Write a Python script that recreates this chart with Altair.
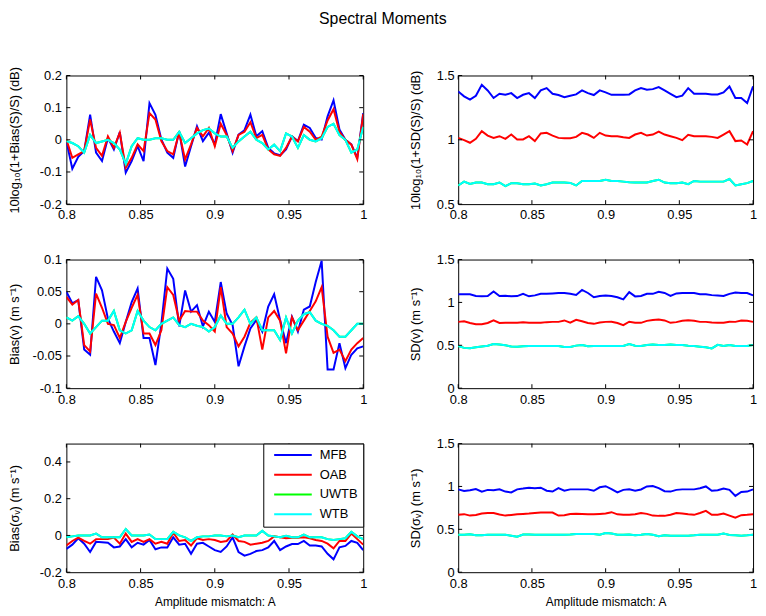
import altair as alt
import pandas as pd

AMP = [round(0.8 + 0.004 * k, 3) for k in range(51)]
SERIES = ["MFB", "OAB", "UWTB", "WTB"]
COLORS = ["#0000ff", "#ff0000", "#00ff00", "#00ffff"]
X_TICKS = [0.8, 0.85, 0.9, 0.95, 1.0]

# ---- Bias of S (dB) ----
MFB_S_BIAS = [-0.004, -0.09, -0.053, -0.035, 0.078, -0.04, -0.066, 0.006, -0.03, 0.024,
              -0.102, -0.066, -0.02, -0.066, 0.114, 0.078, 0.001, -0.04, -0.056, 0.027,
              -0.083, -0.02, 0.042, -0.004, 0.022, -0.014, 0.08, 0.02, -0.04, 0.016,
              0.03, 0.078, 0.011, 0.027, -0.025, -0.042, -0.048, -0.03, 0.011, -0.004,
              0.047, 0.037, 0.006, 0.001, 0.073, 0.123, 0.032, 0.0, -0.014, -0.056, 0.083]
OAB_S_BIAS = [0.001, -0.056, -0.045, -0.035, 0.063, -0.025, -0.05, 0.011, -0.025, 0.022,
              -0.087, -0.056, -0.014, -0.035, 0.083, 0.063, -0.004, -0.035, -0.045, 0.022,
              -0.061, -0.014, 0.037, 0.011, 0.037, -0.02, 0.05, 0.015, -0.035, 0.015,
              0.025, 0.055, 0.005, 0.015, -0.03, -0.045, -0.05, -0.025, 0.01, -0.005,
              0.04, 0.025, 0.0, 0.01, 0.06, 0.095, 0.025, 0.0, -0.015, -0.06, 0.08]
WTB_S_BIAS = [-0.004, -0.01, -0.02, -0.04, 0.015, -0.01, -0.005, 0.0, -0.01, -0.03,
              -0.075, -0.02, 0.005, 0.0, 0.0, 0.005, 0.005, 0.0, 0.0, 0.025,
              -0.01, 0.005, 0.02, 0.03, 0.035, 0.02, 0.01, 0.01, -0.025, -0.005,
              0.01, 0.025, 0.0, -0.01, -0.03, -0.015, -0.035, 0.02, 0.01, -0.025,
              0.015, 0.0, -0.005, 0.005, 0.04, 0.05, 0.015, 0.0, -0.04, -0.03, 0.04]
UWTB_S_BIAS = list(WTB_S_BIAS)

# ---- Bias of v (m/s) ----
MFB_V_BIAS = [0.05, 0.032, 0.037, -0.04, -0.048, 0.073, 0.052, 0.008, -0.012, -0.03,
              0.003, 0.034, 0.055, -0.022, -0.022, -0.064, 0.0, 0.086, 0.07, -0.004,
              0.052, 0.019, 0.029, -0.004, 0.019, 0.003, 0.065, 0.016, -0.002, -0.066,
              -0.035, -0.007, 0.006, -0.012, 0.027, 0.046, 0.006, -0.03, 0.011, -0.012,
              0.022, 0.027, 0.065, 0.098, -0.071, -0.071, -0.03, -0.069, -0.048, -0.038, -0.035]
OAB_V_BIAS = [0.042, 0.03, 0.037, -0.033, -0.043, 0.047, 0.025, 0.0, -0.002, -0.022,
              0.003, 0.025, 0.045, -0.015, -0.015, -0.033, -0.01, 0.057, 0.045, 0.005,
              0.02, 0.019, 0.019, 0.005, -0.002, -0.012, 0.057, -0.005, -0.015, -0.035,
              -0.02, 0.002, 0.01, -0.04, 0.01, 0.02, 0.005, -0.046, 0.01, -0.01,
              0.005, 0.02, 0.035, 0.057, -0.02, -0.045, -0.04, -0.058, -0.04, -0.03, -0.022]
WTB_V_BIAS = [0.01, 0.005, 0.012, 0.0, -0.015, -0.005, 0.005, 0.005, 0.02, -0.01,
              -0.015, -0.01, 0.02, 0.005, -0.005, -0.01, 0.0, 0.005, 0.01, -0.002,
              -0.005, 0.0, -0.003, -0.005, -0.012, -0.005, 0.013, 0.0, 0.0, 0.01,
              0.022, 0.0, 0.01, -0.01, -0.01, -0.01, -0.025, 0.01, -0.015, 0.005,
              0.015, 0.018, 0.005, 0.0, -0.003, -0.01, -0.02, -0.02, -0.01, 0.0, 0.0]
UWTB_V_BIAS = list(WTB_V_BIAS)

# ---- Bias of sigma_v (m/s) ----
MFB_SIG_BIAS = [-0.073, -0.05, -0.015, -0.045, -0.09, -0.035, -0.037, -0.04, -0.065, -0.06,
                -0.02, -0.065, -0.04, -0.05, -0.025, -0.075, -0.065, -0.065, -0.01, -0.05,
                -0.045, -0.1, -0.045, -0.04, -0.06, -0.08, -0.09, -0.06, -0.01, -0.09,
                -0.11, -0.1, -0.085, -0.08, -0.065, -0.03, -0.08, -0.06, -0.047, -0.047,
                -0.03, -0.055, -0.055, -0.06, -0.1, -0.13, -0.065, -0.057, -0.03, -0.04, -0.08]
OAB_SIG_BIAS = [-0.055, -0.03, -0.012, -0.03, -0.045, -0.02, -0.02, -0.02, -0.012, -0.045,
                0.01, -0.035, -0.02, -0.035, -0.02, -0.045, -0.035, -0.045, 0.015, -0.03,
                -0.025, -0.055, -0.015, -0.025, -0.02, -0.025, -0.035, -0.03, 0.005, -0.03,
                -0.035, -0.05, -0.045, -0.04, -0.03, -0.005, -0.01, -0.015, -0.012, -0.012,
                -0.01, -0.015, -0.025, -0.03, -0.045, -0.07, -0.03, -0.03, 0.01, -0.02, -0.05]
WTB_SIG_BIAS = [-0.01, -0.005, 0.0, 0.0, 0.0, 0.01, -0.01, -0.01, -0.01, -0.01,
                0.035, 0.0, 0.0, 0.0, 0.005, -0.02, -0.02, -0.02, 0.02, 0.0,
                -0.01, -0.03, -0.01, -0.005, -0.005, 0.0, 0.0, -0.005, 0.0, -0.01,
                0.0, 0.0, 0.0, 0.025, 0.0, -0.005, -0.01, -0.002, -0.01, -0.01,
                0.005, -0.01, -0.01, -0.01, -0.02, -0.025, -0.02, -0.015, 0.02, -0.005, -0.02]
UWTB_SIG_BIAS = list(WTB_SIG_BIAS)

# ---- SD of S (dB) ----
MFB_S_SD = [1.376, 1.338, 1.312, 1.343, 1.428, 1.384, 1.325, 1.358, 1.35, 1.363,
            1.325, 1.35, 1.363, 1.325, 1.384, 1.402, 1.358, 1.348, 1.332, 1.343,
            1.353, 1.384, 1.363, 1.348, 1.384, 1.369, 1.35, 1.35, 1.35, 1.353,
            1.384, 1.402, 1.389, 1.394, 1.41, 1.384, 1.358, 1.332, 1.343, 1.402,
            1.358, 1.358, 1.358, 1.353, 1.353, 1.369, 1.415, 1.325, 1.325, 1.286, 1.415]
OAB_S_SD = [1.015, 0.997, 0.977, 1.008, 1.067, 1.033, 1.015, 1.028, 1.008, 1.041,
            1.003, 1.003, 1.028, 0.99, 1.049, 1.054, 1.033, 1.015, 1.013, 1.013,
            1.023, 1.054, 1.041, 1.015, 1.054, 1.033, 1.028, 1.028, 1.02, 1.015,
            1.041, 1.054, 1.033, 1.041, 1.064, 1.041, 1.028, 1.015, 0.997, 1.039,
            1.028, 1.028, 1.028, 1.023, 1.015, 1.041, 1.067, 0.99, 0.995, 0.964, 1.067]
WTB_S_SD = [0.645, 0.675, 0.657, 0.668, 0.668, 0.655, 0.655, 0.668, 0.64, 0.663,
            0.663, 0.655, 0.655, 0.66, 0.645, 0.655, 0.668, 0.668, 0.668, 0.665,
            0.645, 0.68, 0.68, 0.68, 0.68, 0.69, 0.68, 0.68, 0.675, 0.67,
            0.668, 0.668, 0.668, 0.68, 0.69, 0.668, 0.663, 0.663, 0.668, 0.655,
            0.68, 0.675, 0.675, 0.675, 0.675, 0.675, 0.695, 0.645, 0.655, 0.663, 0.68]
UWTB_S_SD = list(WTB_S_SD)

# ---- SD of v (m/s) ----
MFB_V_SD = [1.094, 1.094, 1.094, 1.075, 1.071, 1.075, 1.128, 1.075, 1.078, 1.071,
            1.074, 1.1, 1.071, 1.082, 1.1, 1.1, 1.105, 1.11, 1.11, 1.1,
            1.086, 1.145, 1.11, 1.06, 1.075, 1.08, 1.075, 1.06, 1.035, 1.12,
            1.07, 1.075, 1.1, 1.1, 1.125, 1.11, 1.075, 1.105, 1.11, 1.11,
            1.11, 1.095, 1.094, 1.085, 1.08, 1.075, 1.1, 1.115, 1.11, 1.11, 1.082]
OAB_V_SD = [0.773, 0.78, 0.76, 0.746, 0.746, 0.76, 0.79, 0.76, 0.762, 0.762,
            0.762, 0.768, 0.762, 0.762, 0.762, 0.77, 0.773, 0.773, 0.79, 0.765,
            0.796, 0.78, 0.76, 0.75, 0.765, 0.773, 0.775, 0.76, 0.735, 0.775,
            0.762, 0.762, 0.785, 0.795, 0.8, 0.79, 0.762, 0.77, 0.785, 0.793,
            0.785, 0.773, 0.773, 0.765, 0.762, 0.762, 0.775, 0.773, 0.79, 0.785, 0.773]
WTB_V_SD = [0.491, 0.47, 0.466, 0.476, 0.485, 0.495, 0.514, 0.51, 0.5, 0.485,
            0.483, 0.49, 0.491, 0.491, 0.491, 0.491, 0.491, 0.491, 0.48, 0.48,
            0.496, 0.503, 0.49, 0.491, 0.491, 0.491, 0.491, 0.491, 0.491, 0.514,
            0.495, 0.491, 0.503, 0.51, 0.503, 0.503, 0.51, 0.503, 0.503, 0.495,
            0.491, 0.483, 0.476, 0.464, 0.505, 0.491, 0.503, 0.491, 0.491, 0.491, 0.503]
UWTB_V_SD = list(WTB_V_SD)

# ---- SD of sigma_v (m/s) ----
MFB_SIG_SD = [0.966, 0.947, 0.955, 0.97, 0.94, 0.96, 0.955, 0.966, 0.94, 0.93,
              0.966, 0.975, 0.986, 0.98, 0.986, 0.95, 0.94, 0.98, 0.95, 0.966,
              0.966, 0.966, 0.966, 0.95, 0.99, 1.003, 0.97, 0.93, 0.96, 0.966,
              0.95, 0.965, 1.0, 1.005, 0.98, 0.945, 0.94, 0.96, 0.966, 0.966,
              0.966, 0.98, 1.0, 0.95, 0.955, 0.975, 0.96, 0.89, 0.935, 0.94, 0.966]
OAB_SIG_SD = [0.669, 0.677, 0.66, 0.667, 0.684, 0.69, 0.69, 0.672, 0.66, 0.668,
              0.675, 0.68, 0.684, 0.69, 0.696, 0.696, 0.696, 0.66, 0.664, 0.678,
              0.682, 0.68, 0.677, 0.677, 0.68, 0.684, 0.7, 0.675, 0.669, 0.669,
              0.675, 0.69, 0.68, 0.66, 0.657, 0.657, 0.67, 0.69, 0.684, 0.675,
              0.669, 0.69, 0.715, 0.67, 0.669, 0.684, 0.66, 0.635, 0.665, 0.669, 0.677]
WTB_SIG_SD = [0.437, 0.437, 0.443, 0.43, 0.43, 0.437, 0.437, 0.437, 0.437, 0.425,
              0.414, 0.44, 0.44, 0.437, 0.437, 0.437, 0.437, 0.437, 0.437, 0.44,
              0.445, 0.445, 0.445, 0.445, 0.437, 0.458, 0.452, 0.437, 0.437, 0.44,
              0.432, 0.437, 0.445, 0.437, 0.42, 0.43, 0.425, 0.425, 0.425, 0.425,
              0.43, 0.437, 0.437, 0.437, 0.437, 0.45, 0.435, 0.43, 0.425, 0.43, 0.437]
UWTB_SIG_SD = list(WTB_SIG_SD)

FONT = "Liberation Sans"
LABEL_EXPR = "replace(format(datum.value, '~g'), '\u2212', '-')"


def panel(vals, ytitle, ydomain, yticks, width, left_col, xtitle=False, legend=False):
    H = 130
    rows = []
    for s in SERIES:
        for a, v in zip(AMP, vals[s]):
            rows.append({"amp": a, "value": v, "series": s})
    df = pd.DataFrame(rows)
    xscale = alt.Scale(domain=[0.8, 1.0], nice=False, zero=False)
    yscale = alt.Scale(domain=ydomain, nice=False, zero=False)
    if xtitle:
        xaxis = alt.Axis(values=X_TICKS, labelExpr=LABEL_EXPR, title="Amplitude mismatch: A",
                         labelPadding=5, titlePadding=7, titleFontSize=12)
    else:
        xaxis = alt.Axis(values=X_TICKS, labelExpr=LABEL_EXPR, title=None, labelPadding=5)
    if left_col:
        yaxis = alt.Axis(values=yticks, labelExpr=LABEL_EXPR, title=ytitle,
                         minExtent=34, maxExtent=34, titlePadding=11, labelPadding=5)
    else:
        yaxis = alt.Axis(values=yticks, labelExpr=LABEL_EXPR, title=ytitle,
                         minExtent=24, maxExtent=24, titlePadding=12, labelPadding=4)
    X = alt.X("amp:Q", scale=xscale, axis=xaxis)
    Y = alt.Y("value:Q", scale=yscale, axis=yaxis)
    layers = []
    for s, c in zip(SERIES, COLORS):
        if legend:
            color = alt.Color(
                "series:N",
                scale=alt.Scale(domain=SERIES, range=COLORS),
                legend=alt.Legend(title=None, orient="top-right", offset=0,
                                  fillColor="white", strokeColor="black", padding=5,
                                  symbolType="stroke", symbolSize=1444, symbolStrokeWidth=2,
                                  clipHeight=13,
                                  labelFontSize=13, labelFont=FONT, labelColor="black",
                                  labelOffset=7, rowPadding=6, symbolOffset=5, labelLimit=200),
            )
        else:
            color = alt.value(c)
        layers.append(
            alt.Chart(df).transform_filter(alt.datum.series == s)
            .mark_line(strokeWidth=2, clip=True)
            .encode(x=X, y=Y, color=color)
        )
    xt = pd.DataFrame({"amp": X_TICKS})
    yt = pd.DataFrame({"value": yticks})
    tick = dict(color="black", strokeWidth=1)
    layers.append(alt.Chart(xt).mark_rule(**tick).encode(
        x=X, y=alt.value(0), y2=alt.value(4)))
    layers.append(alt.Chart(xt).mark_rule(**tick).encode(
        x=X, y=alt.value(H - 4), y2=alt.value(H)))
    layers.append(alt.Chart(yt).mark_rule(**tick).encode(
        y=Y, x=alt.value(0), x2=alt.value(4)))
    layers.append(alt.Chart(yt).mark_rule(**tick).encode(
        y=Y, x=alt.value(width - 4), x2=alt.value(width)))
    return alt.layer(*layers).properties(width=width, height=H)


def pack(m, o, u, w):
    return {"MFB": m, "OAB": o, "UWTB": u, "WTB": w}


p11 = panel(pack(MFB_S_BIAS, OAB_S_BIAS, UWTB_S_BIAS, WTB_S_BIAS),
            "10log\u2081\u2080(1+Bias(S)/S) (dB)", [-0.2, 0.2], [-0.2, -0.1, 0, 0.1, 0.2], 300, True)
p12 = panel(pack(MFB_S_SD, OAB_S_SD, UWTB_S_SD, WTB_S_SD),
            "10log\u2081\u2080(1+SD(S)/S) (dB)", [0.5, 1.5], [0.5, 1, 1.5], 298, False)
p21 = panel(pack(MFB_V_BIAS, OAB_V_BIAS, UWTB_V_BIAS, WTB_V_BIAS),
            "Bias(v) (m s\u207b\u00b9)", [-0.1, 0.1], [-0.1, -0.05, 0, 0.05, 0.1], 300, True)
p22 = panel(pack(MFB_V_SD, OAB_V_SD, UWTB_V_SD, WTB_V_SD),
            "SD(v) (m s\u207b\u00b9)", [0, 1.5], [0, 0.5, 1, 1.5], 298, False)
p31 = panel(pack(MFB_SIG_BIAS, OAB_SIG_BIAS, UWTB_SIG_BIAS, WTB_SIG_BIAS),
            "Bias(\u03c3\u1d65) (m s\u207b\u00b9)", [-0.2, 0.5], [-0.2, 0, 0.2, 0.4], 300, True,
            xtitle=True, legend=True)
p32 = panel(pack(MFB_SIG_SD, OAB_SIG_SD, UWTB_SIG_SD, WTB_SIG_SD),
            "SD(\u03c3\u1d65) (m s\u207b\u00b9)", [0, 1.5], [0, 0.5, 1, 1.5], 298, False,
            xtitle=True)


def row(a, b):
    return (alt.hconcat(a, b, spacing=41)
            .resolve_scale(color="independent").resolve_legend(color="independent"))


chart = (
    alt.vconcat(row(p11, p12), row(p21, p22), row(p31, p32), spacing=30)
    .resolve_scale(color="independent").resolve_legend(color="independent")
    .properties(
        padding=0,
        title=alt.TitleParams("Spectral Moments", fontSize=16, font=FONT, fontWeight="normal",
                              anchor="middle", frame="bounds", offset=39, color="black"),
    )
    .configure_axis(labelFont=FONT, titleFont=FONT, labelFontSize=13, titleFontSize=13,
                    labelColor="black", titleColor="black", titleFontWeight="normal",
                    grid=False, domain=False, ticks=False, tickSize=0, labelFlush=False,
                    labelOverlap=False)
    .configure_view(stroke="black", strokeWidth=1)
)

chart.save("out.html", embed_options={"renderer": "svg", "actions": False})
